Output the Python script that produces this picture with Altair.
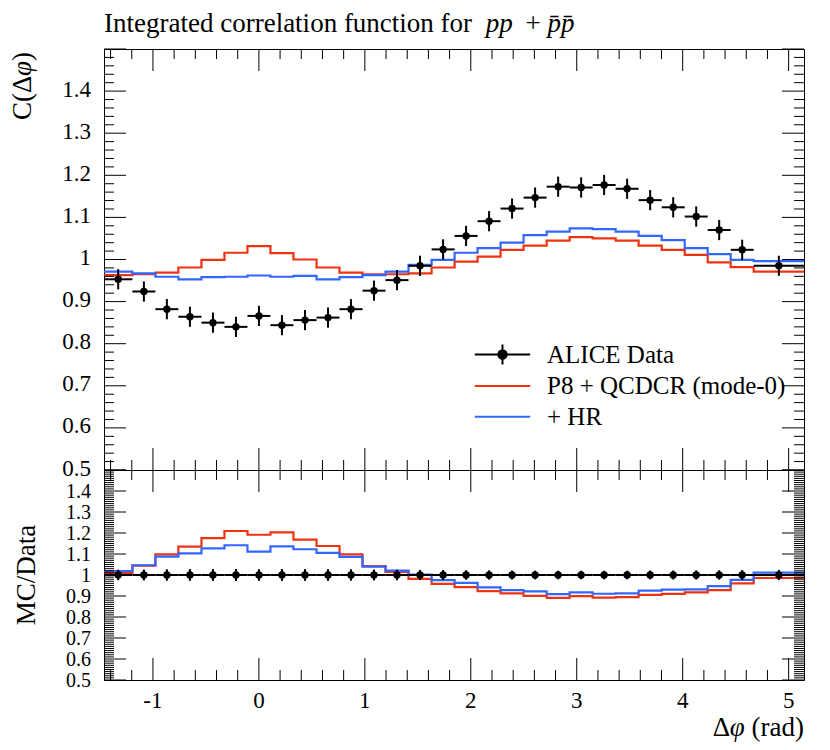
import altair as alt
import numpy as np
import pandas as pd

# ---------------- data ----------------
TITLE_MAIN = "Integrated correlation function for"
TITLE_PP = "pp"
TITLE_PLUS = "+"
TITLE_PBAR = "p\u0304p\u0304"
YTITLE_MAIN = ["C(\u0394", "\u03c6", ")"]
YTITLE_RATIO = "MC/Data"
XTITLE = ["\u0394", "\u03c6", "(rad)"]

EDGES = [-1.462, -1.194, -0.977, -0.760, -0.542, -0.325, -0.108, 0.109, 0.326,
         0.544, 0.761, 0.978, 1.195, 1.412, 1.630, 1.847, 2.064, 2.281, 2.498,
         2.716, 2.933, 3.150, 3.367, 3.584, 3.802, 4.019, 4.236, 4.453, 4.670, 5.145]

DATA = [0.953, 0.924, 0.882, 0.864, 0.850, 0.840, 0.866, 0.844, 0.856, 0.862,
        0.882, 0.926, 0.951, 0.985, 1.024, 1.056, 1.091, 1.121, 1.147, 1.173,
        1.171, 1.177, 1.168, 1.141, 1.124, 1.102, 1.070, 1.023, 0.985]
DATA_ERR = [0.024, 0.024, 0.024, 0.024, 0.024, 0.024, 0.024, 0.024, 0.024, 0.024,
            0.024, 0.024, 0.024, 0.024, 0.024, 0.024, 0.024, 0.024, 0.024, 0.024,
            0.024, 0.024, 0.024, 0.024, 0.024, 0.024, 0.024, 0.024, 0.024]
MC_QCDCR = [0.963, 0.965, 0.969, 0.981, 0.999, 1.016, 1.032, 1.015, 1.000, 0.981,
            0.969, 0.965, 0.965, 0.967, 0.981, 0.995, 1.007, 1.023, 1.033, 1.045,
            1.053, 1.050, 1.045, 1.033, 1.023, 1.011, 0.993, 0.982, 0.971]
MC_HR = [0.971, 0.967, 0.959, 0.953, 0.958, 0.959, 0.962, 0.959, 0.961, 0.953,
         0.958, 0.963, 0.971, 0.987, 0.999, 1.016, 1.027, 1.040, 1.058, 1.066,
         1.074, 1.072, 1.066, 1.056, 1.046, 1.027, 1.013, 0.999, 0.996]

NAMES = ["ALICE Data", "P8 + QCDCR (mode-0)", "+ HR"]
COLORS = ["black", "#EE3311", "#3366FF"]
X_LABELS = [-1, 0, 1, 2, 3, 4, 5]
X_TICK_TEXT = ["-1", "0", "1", "2", "3", "4", "5"]
Y_LABELS = [0.5, 0.6, 0.7, 0.8, 0.9, 1.0, 1.1, 1.2, 1.3, 1.4]
Y_TICK_TEXT = ["0.5", "0.6", "0.7", "0.8", "0.9", "1", "1.1", "1.2", "1.3", "1.4"]

# ---------------- styling ----------------
FONT = "Liberation Serif"
W, H1, H2 = 700, 421, 210
MAJ, MIN = 22, 10

xs = alt.Scale(domain=[EDGES[0], EDGES[-1]], nice=False, zero=False)
ys = alt.Scale(domain=[0.5, 1.5], nice=False, zero=False)
ys_r = alt.Scale(domain=[0.5, 1.5], nice=False, zero=False)

lo = np.array(EDGES[:-1]); hi = np.array(EDGES[1:])
cen = (lo + hi) / 2
d = np.array(DATA); e = np.array(DATA_ERR)
pts = pd.DataFrame({"x": cen, "lo": lo, "hi": hi, "y": d, "ylo": d - e, "yhi": d + e})
rpts = pd.DataFrame({"x": cen, "lo": lo, "hi": hi, "y": np.ones_like(d),
                     "ylo": 1 - e / d, "yhi": 1 + e / d})


def step_df(vals):
    v = list(vals)
    return pd.DataFrame({"x": EDGES, "y": v + [v[-1]]})


def tick_layers(yvals_major, yvals_minor, H, yscale):
    xmin = [round(v, 2) for v in np.arange(-1.4, 5.15, 0.2) if abs(v - round(v)) > 1e-6]
    layers = []
    for vals, L in ((X_LABELS, MAJ), (xmin, MIN)):
        df = pd.DataFrame({"v": vals})
        for y0, y1 in ((0, L), (H, H - L)):
            layers.append(alt.Chart(df).mark_rule(color="black", strokeWidth=1).encode(
                x=alt.X("v:Q", scale=xs, axis=None), y=alt.value(y0), y2=alt.value(y1)))
    for vals, L in ((yvals_major, MAJ), (yvals_minor, MIN)):
        df = pd.DataFrame({"v": vals})
        for x0, x1 in ((0, L), (W, W - L)):
            layers.append(alt.Chart(df).mark_rule(color="black", strokeWidth=1).encode(
                y=alt.Y("v:Q", scale=yscale, axis=None), x=alt.value(x0), x2=alt.value(x1)))
    return layers


def ylabels(yscale, size, dy):
    df = pd.DataFrame({"v": Y_LABELS, "t": Y_TICK_TEXT})
    return alt.Chart(df).mark_text(font=FONT, fontSize=size, align="right", baseline="middle",
                                   dy=dy, color="black").encode(
        y=alt.Y("v:Q", scale=yscale, axis=None), x=alt.value(-13), text="t:N")


def xlabels(H):
    df = pd.DataFrame({"v": X_LABELS, "t": X_TICK_TEXT})
    return alt.Chart(df).mark_text(font=FONT, fontSize=23, align="center",
                                   baseline="alphabetic", color="black").encode(
        x=alt.X("v:Q", scale=xs, axis=None), y=alt.value(H + 28), text="t:N")


def label(txt, x, y, size=27, style="normal", align="left", angle=0):
    return alt.Chart(pd.DataFrame({"t": [txt]})).mark_text(
        font=FONT, fontSize=size, fontStyle=style, align=align, baseline="alphabetic",
        angle=angle, color="black").encode(text="t:N", x=alt.value(x), y=alt.value(y))


def hist_layer(vals, color, yscale):
    return alt.Chart(step_df(vals)).mark_line(interpolate="step-after", color=color,
                                              strokeWidth=2.2).encode(
        x=alt.X("x:Q", scale=xs, axis=None),
        y=alt.Y("y:Q", scale=yscale, axis=None))


def data_layers(df, yscale):
    base = alt.Chart(df)
    hbar = base.mark_rule(color="black", strokeWidth=2).encode(
        x=alt.X("lo:Q", scale=xs, axis=None), x2="hi:Q",
        y=alt.Y("y:Q", scale=yscale, axis=None))
    vbar = base.mark_rule(color="black", strokeWidth=2).encode(
        x=alt.X("x:Q", scale=xs, axis=None),
        y=alt.Y("ylo:Q", scale=yscale, axis=None), y2="yhi:Q")
    dot = base.mark_circle(color="black", size=55, opacity=1).encode(
        x=alt.X("x:Q", scale=xs, axis=None),
        y=alt.Y("y:Q", scale=yscale, axis=None))
    return [hbar, vbar, dot]


ymaj = [round(0.5 + 0.1 * i, 2) for i in range(11)]
ymin_main = [round(0.5 + 0.02 * i, 2) for i in range(51) if i % 5]
ymin_ratio = [round(0.5 + 0.01 * i, 2) for i in range(101) if i % 10]

# ---------------- legend carrier ----------------
SYM = 29 * 29
PATHS = [
    "M-1.91,0H1.91M0,-0.69V0.69M0.29,0A0.29,0.29,0,1,1,-0.29,0A0.29,0.29,0,1,1,0.29,0Z",
    "M-1.91,0H1.91",
    "M-1.91,0H1.91",
]
leg = alt.Legend(title=None, orient="none", legendX=383, legendY=290, padding=0,
                 labelFont=FONT, labelFontSize=25, labelColor="black", labelLimit=500,
                 labelOffset=29, rowPadding=1.6, symbolSize=SYM, symbolStrokeWidth=2)
legdf = pd.DataFrame({"series": NAMES})
legend_layer = alt.Chart(legdf).mark_point(clip=True, strokeWidth=2, opacity=1).encode(
    x=alt.value(-60), y=alt.value(-60),
    fill=alt.Fill("series:N", scale=alt.Scale(domain=NAMES, range=COLORS), legend=leg),
    stroke=alt.Stroke("series:N", scale=alt.Scale(domain=NAMES, range=COLORS), legend=leg),
    shape=alt.Shape("series:N", scale=alt.Scale(domain=NAMES, range=PATHS), legend=leg),
)

# ---------------- main panel ----------------
TY = -17
YT_X = -73
main = alt.layer(
    hist_layer(MC_QCDCR, COLORS[1], ys),
    hist_layer(MC_HR, COLORS[2], ys),
    *data_layers(pts, ys),
    *tick_layers(ymaj, ymin_main, H1, ys),
    ylabels(ys, 23, -1.5),
    legend_layer,
    label(TITLE_MAIN, 0, TY),
    label(TITLE_PP, 381.7, TY, style="italic"),
    label(TITLE_PLUS, 429.2, TY, align="center"),
    label(TITLE_PBAR, 443.4, TY, style="italic"),
    label(YTITLE_MAIN[2], YT_X, 3, align="right", angle=270),
    label(YTITLE_MAIN[1], YT_X, 12, align="right", angle=270, style="italic"),
    label(YTITLE_MAIN[0], YT_X, 26.6, align="right", angle=270),
).properties(width=W, height=H1)

# ---------------- ratio panel ----------------
ratio = alt.layer(
    hist_layer(np.array(MC_QCDCR) / d, COLORS[1], ys_r),
    hist_layer(np.array(MC_HR) / d, COLORS[2], ys_r),
    *data_layers(rpts, ys_r),
    *tick_layers(ymaj, ymin_ratio, H2, ys_r),
    ylabels(ys_r, 20, 1),
    xlabels(H2),
    label(YTITLE_RATIO, -69, H2 / 2, align="center", angle=270),
    label(XTITLE[2], W, H2 + 56, align="right"),
    label(XTITLE[1], W - 59.2, H2 + 56, align="right", style="italic"),
    label(XTITLE[0], W - 73.8, H2 + 56, align="right"),
).properties(width=W, height=H2)

chart = alt.vconcat(main, ratio, spacing=0, bounds="flush").resolve_scale(y="independent").properties(
    padding={"left": 0, "top": 1, "right": 10, "bottom": 5}
).configure_view(stroke="black", strokeWidth=1)

chart.save("out.html", embed_options={"renderer": "svg", "actions": False})
